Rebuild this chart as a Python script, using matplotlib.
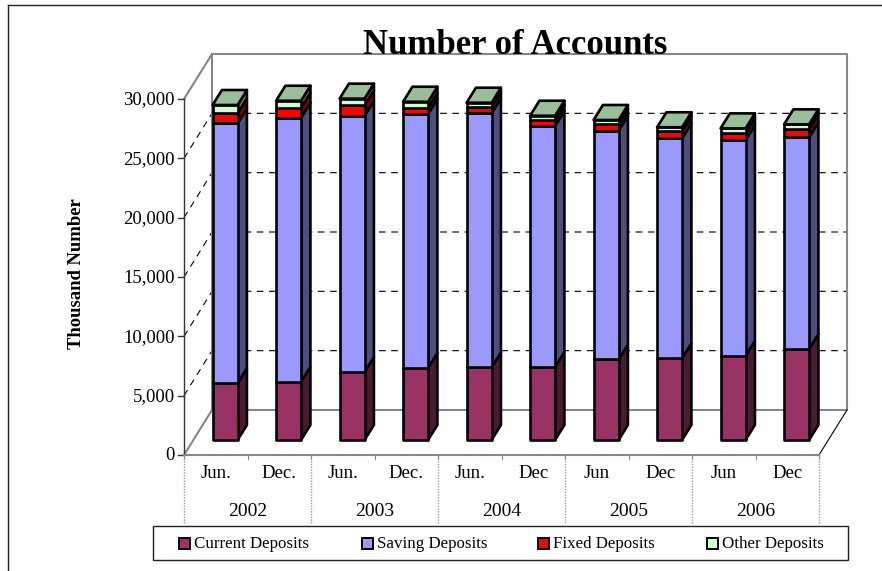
import matplotlib
matplotlib.use("Agg")
import matplotlib.pyplot as plt
from matplotlib.patches import Polygon, Rectangle

plt.rcParams['font.family'] = ['Liberation Serif', 'DejaVu Serif']

# Values (thousand number)
months = ["Jun.", "Dec.", "Jun.", "Dec.", "Jun.", "Dec", "Jun", "Dec", "Jun", "Dec"]
years = ["2002", "2003", "2004", "2005", "2006"]
current_deposits = [4780, 4915, 5730, 6070, 6110, 6150, 6785, 6885, 7105, 7670]
saving_deposits = [21910, 22245, 21600, 21400, 21420, 20310, 19280, 18540, 18175, 17840]
fixed_deposits = [840, 840, 880, 530, 556, 505, 540, 590, 560, 670]
other_deposits = [700, 590, 555, 505, 337, 362, 362, 340, 420, 420]
y_ticks = [0, 5000, 10000, 15000, 20000, 25000, 30000]

series_names = ["Current Deposits", "Saving Deposits", "Fixed Deposits", "Other Deposits"]
series_values = [current_deposits, saving_deposits, fixed_deposits, other_deposits]
front_colors = ["#993366", "#9999FF", "#FF0000", "#CCFFCC"]
side_colors = ["#4D1A33", "#4D4D80", "#800000", "#668066"]
top_color = "#99BF99"

# Excel style oblique projection, depth goes from 0 (front) to 1 (back)
WIDTH, HEIGHT = 882, 571
X0, Y0 = 184, 455          # pixel of category 0, value 0
CAT_PX = 63.5              # pixels per category
VAL_PX = 356 / 30000       # pixels per value unit
DEPTH_X = 28 / CAT_PX      # wall shift in category units
DEPTH_Y = 45 / VAL_PX      # wall shift in value units
YMAX = 30000


def pr(x, y, d=0.0):
    return (x + d * DEPTH_X, y + d * DEPTH_Y)


def px_x(p):
    return (p - X0) / CAT_PX


def px_y(p):
    return (Y0 - p) / VAL_PX


fig = plt.figure(figsize=(WIDTH / 100, HEIGHT / 100), dpi=100)
ax = fig.add_axes([0, 0, 1, 1])
ax.set_xlim(px_x(0), px_x(WIDTH))
ax.set_ylim(px_y(HEIGHT), px_y(0))
ax.axis("off")

n = len(months)
gray = "#868686"

# outer frame, only top and left are inside the picture
ax.plot([px_x(8), px_x(8)], [px_y(HEIGHT), px_y(5)], color="#222222", lw=1.0)
ax.plot([px_x(8), px_x(WIDTH)], [px_y(5), px_y(5)], color="#222222", lw=1.0)

# grid lines on side wall and back wall
for t in y_ticks[1:-1]:
    a, b = zip(pr(0, t, 0), pr(0, t, 1), pr(n, t, 1))
    ax.plot(a, b, color="black", lw=0.8, dashes=(6, 5))

# walls
a, b = zip(pr(0, 0, 1), pr(0, YMAX, 1), pr(n, YMAX, 1), pr(n, 0, 1), pr(0, 0, 1))
ax.plot(a, b, color=gray, lw=1.5)
for t in [0, YMAX]:
    a, b = zip(pr(0, t, 0), pr(0, t, 1))
    ax.plot(a, b, color=gray, lw=1.5)
a, b = zip(pr(n, 0, 0), pr(n, 0, 1))
ax.plot(a, b, color="black", lw=0.8)

# value axis
ax.plot([0, 0], [0, YMAX], color="#333333", lw=1.0)
for t in y_ticks:
    ax.plot([px_x(X0 - 6), 0], [t, t], color="#333333", lw=1.0)
    ax.text(px_x(X0 - 9), px_y(Y0 - t * VAL_PX + 1), f"{t:,}", ha="right", va="center", fontsize=13.5)

# category axis, two levels
ax.plot([0, n], [0, 0], color=gray, lw=1.5)
for i in range(n + 1):
    ax.plot([i, i], [0, px_y(Y0 + 4)], color=gray, lw=0.8)
for i in range(0, n + 1, 2):
    ax.plot([i, i], [0, px_y(524)], color="#999999", lw=1.0, ls=(0, (1, 1)))
for i, m in enumerate(months):
    ax.text(i + 0.5, px_y(473), m, ha="center", va="center", fontsize=13.5)
for i, y in enumerate(years):
    ax.text(2 * i + 1, px_y(511), y, ha="center", va="center", fontsize=14)

# bars
bar_w = 25 / CAT_PX
d1, d2 = 1 / 3, 2 / 3
edge = dict(ec="black", lw=1.9, joinstyle="round", zorder=3)
for i in range(n):
    left = i + 0.5 - bar_w / 2
    right = left + bar_w
    base = 0
    for k, values in enumerate(series_values):
        top = base + values[i]
        side = [pr(right, base, d1), pr(right, base, d2), pr(right, top, d2), pr(right, top, d1)]
        front = [pr(left, base, d1), pr(right, base, d1), pr(right, top, d1), pr(left, top, d1)]
        ax.add_patch(Polygon(side, fc=side_colors[k], **edge))
        ax.add_patch(Polygon(front, fc=front_colors[k], **edge))
        base = top
    roof = [pr(left, base, d1), pr(right, base, d1), pr(right, base, d2), pr(left, base, d2)]
    ax.add_patch(Polygon(roof, fc=top_color, **edge))

# titles
ax.text(px_x(515.5), px_y(45), "Number of Accounts", ha="center", va="center",
        fontsize=25, fontweight="bold", zorder=4)
ax.text(px_x(76), px_y(274), "Thousand Number", ha="center", va="center",
        rotation=90, fontsize=13.4, fontweight="bold")

# legend box
ax.add_patch(Rectangle((px_x(153), px_y(560)), px_x(848) - px_x(153), px_y(526) - px_y(560),
                       fc="white", ec="#222222", lw=1.0, zorder=5))
legend_x = [179, 362, 538, 707]
for name, color, lx in zip(series_names, front_colors, legend_x):
    ax.add_patch(Rectangle((px_x(lx), px_y(549)), 11 / CAT_PX, 11 * (1 / VAL_PX),
                           fc=color, ec="black", lw=1.4, zorder=6))
    ax.text(px_x(lx + 15), px_y(544), name, ha="left", va="center", fontsize=12.2, zorder=6)

fig.savefig("out.png", dpi=100)
